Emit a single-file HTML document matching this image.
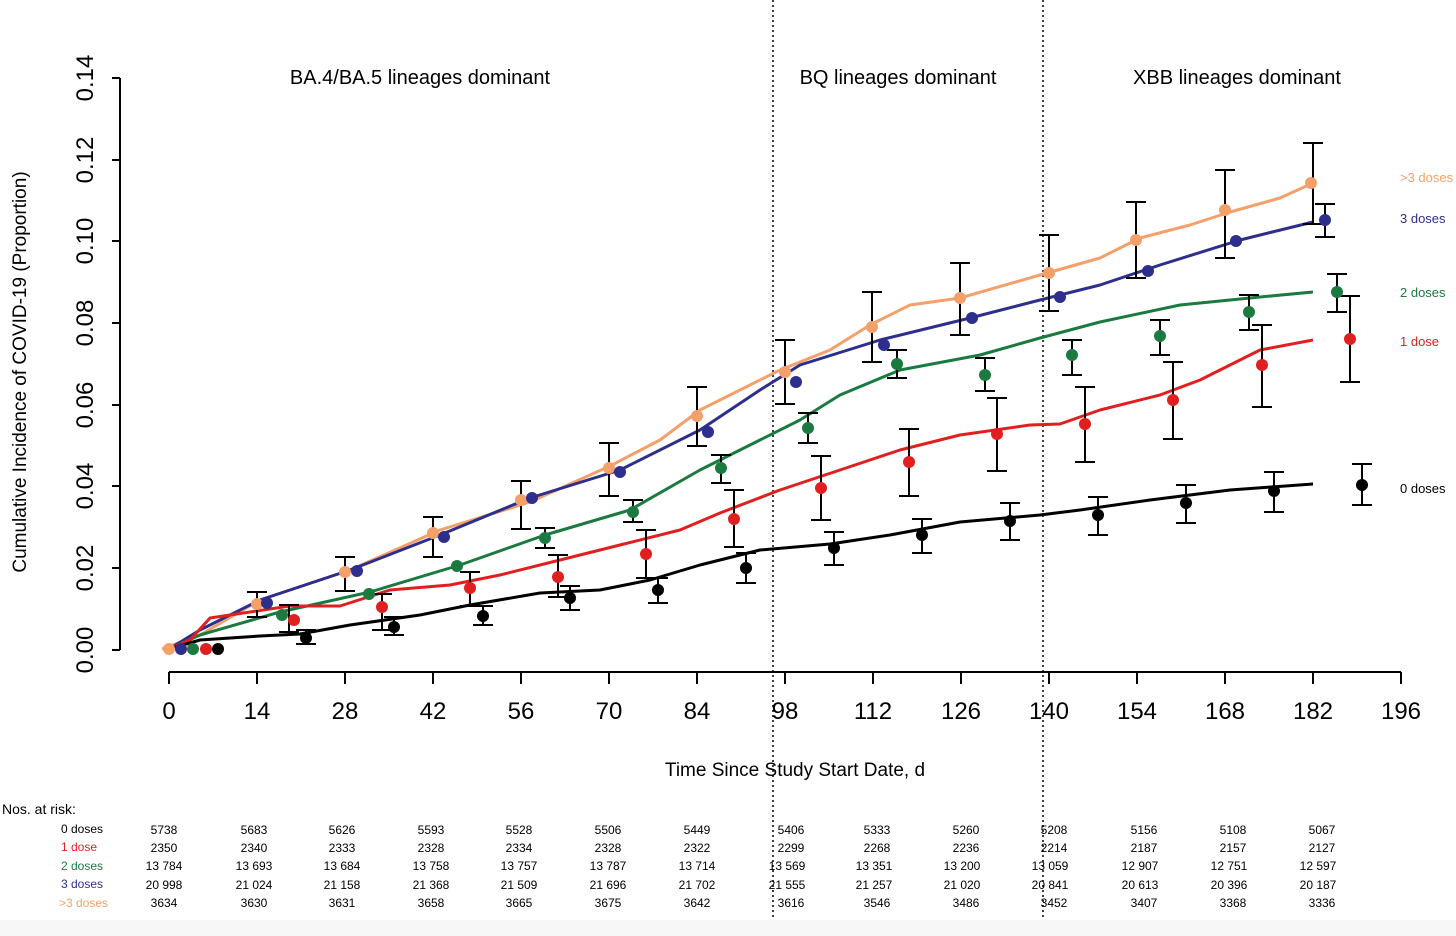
<!DOCTYPE html>
<html><head><meta charset="utf-8"><style>
body{margin:0;background:#fff;}
svg{display:block;font-family:"Liberation Sans",Arial,sans-serif;}
</style></head><body>
<svg width="1456" height="936" viewBox="0 0 1456 936" xmlns="http://www.w3.org/2000/svg">
<rect width="1456" height="936" fill="#fff"/>
<rect x="0" y="920" width="1456" height="16" fill="#f7f7f7"/>
<g stroke="#000" stroke-width="2" fill="none">
<line x1="120" y1="78" x2="120" y2="650"/>
<line x1="112" y1="78" x2="120" y2="78"/><line x1="112" y1="160" x2="120" y2="160"/><line x1="112" y1="241" x2="120" y2="241"/><line x1="112" y1="323" x2="120" y2="323"/><line x1="112" y1="405" x2="120" y2="405"/><line x1="112" y1="486" x2="120" y2="486"/><line x1="112" y1="568" x2="120" y2="568"/><line x1="112" y1="650" x2="120" y2="650"/>
<line x1="169" y1="672" x2="1401" y2="672"/>
<line x1="169" y1="672" x2="169" y2="684"/><line x1="257" y1="672" x2="257" y2="684"/><line x1="345" y1="672" x2="345" y2="684"/><line x1="433" y1="672" x2="433" y2="684"/><line x1="521" y1="672" x2="521" y2="684"/><line x1="609" y1="672" x2="609" y2="684"/><line x1="697" y1="672" x2="697" y2="684"/><line x1="785" y1="672" x2="785" y2="684"/><line x1="873" y1="672" x2="873" y2="684"/><line x1="961" y1="672" x2="961" y2="684"/><line x1="1049" y1="672" x2="1049" y2="684"/><line x1="1137" y1="672" x2="1137" y2="684"/><line x1="1225" y1="672" x2="1225" y2="684"/><line x1="1313" y1="672" x2="1313" y2="684"/><line x1="1401" y1="672" x2="1401" y2="684"/>
</g>
<g stroke="#000" stroke-width="1.5" stroke-dasharray="2,3">
<line x1="773" y1="0" x2="773" y2="920"/>
<line x1="1043" y1="0" x2="1043" y2="920"/>
</g>
<g font-size="24" text-anchor="middle" fill="#000">
<text transform="translate(93,650) rotate(-90)">0.00</text>
<text transform="translate(93,568) rotate(-90)">0.02</text>
<text transform="translate(93,486) rotate(-90)">0.04</text>
<text transform="translate(93,405) rotate(-90)">0.06</text>
<text transform="translate(93,323) rotate(-90)">0.08</text>
<text transform="translate(93,241) rotate(-90)">0.10</text>
<text transform="translate(93,160) rotate(-90)">0.12</text>
<text transform="translate(93,78) rotate(-90)">0.14</text>
<text x="169" y="719">0</text><text x="257" y="719">14</text><text x="345" y="719">28</text><text x="433" y="719">42</text><text x="521" y="719">56</text><text x="609" y="719">70</text><text x="697" y="719">84</text><text x="785" y="719">98</text><text x="873" y="719">112</text><text x="961" y="719">126</text><text x="1049" y="719">140</text><text x="1137" y="719">154</text><text x="1225" y="719">168</text><text x="1313" y="719">182</text><text x="1401" y="719">196</text>
</g>
<text transform="translate(26,372) rotate(-90)" font-size="19" text-anchor="middle">Cumulative Incidence of COVID-19 (Proportion)</text>
<text x="795" y="776" font-size="19" text-anchor="middle">Time Since Study Start Date, d</text>
<g font-size="20" text-anchor="middle">
<text x="420" y="84">BA.4/BA.5 lineages dominant</text>
<text x="898" y="84">BQ lineages dominant</text>
<text x="1237" y="84">XBB lineages dominant</text>
</g>
<g font-size="13">
<text x="1400" y="182" fill="#f4a06a">&gt;3 doses</text>
<text x="1400" y="223" fill="#2e2e8c">3 doses</text>
<text x="1400" y="297" fill="#1a7a40">2 doses</text>
<text x="1400" y="346" fill="#e02020">1 dose</text>
<text x="1400" y="493" fill="#000">0 doses</text>
</g>
<g fill="none" stroke-width="3" stroke-linejoin="round">
<polyline stroke="#f4a06a" points="162,649 200,635 260,600 350,570 440,530 530,502 610,466 660,440 700,410 740,390 780,370 830,350 870,325 910,305 960,298 1040,275 1100,258 1140,238 1190,225 1230,212 1280,198 1313,183"/>
<polyline stroke="#2e2e8c" points="169,649 200,630 260,600 350,570 440,535 530,498 620,470 700,430 760,390 800,365 880,340 970,318 1040,300 1100,285 1160,265 1240,240 1313,222"/>
<polyline stroke="#1a7a40" points="169,649 200,635 280,612 370,592 460,565 545,535 630,510 700,470 760,440 800,420 840,395 900,370 980,355 1040,338 1100,322 1180,305 1260,297 1313,292"/>
<polyline stroke="#e02020" points="169,649 190,640 210,618 290,606 340,606 390,590 450,585 500,575 560,560 620,545 680,530 720,513 780,490 840,470 900,450 960,435 1030,425 1060,424 1100,410 1160,395 1200,380 1260,350 1313,340"/>
<polyline stroke="#000" points="169,649 200,640 260,636 300,634 350,625 420,615 470,605 540,593 600,590 650,580 700,565 760,550 830,544 890,535 960,522 1040,515 1080,510 1150,500 1230,490 1313,484"/>
</g>
<g stroke="#000" stroke-width="2" fill="none">
<path d="M257 592V617M247 592h20M247 617h20"/>
<path d="M289 605V632M279 605h20M279 632h20"/>
<path d="M306 630V644M296 630h20M296 644h20"/>
<path d="M345 557V591M335 557h20M335 591h20"/>
<path d="M382 594V630M372 594h20M372 630h20"/>
<path d="M394 617V635M384 617h20M384 635h20"/>
<path d="M433 517V557M423 517h20M423 557h20"/>
<path d="M470 572V606M460 572h20M460 606h20"/>
<path d="M483 606V625M473 606h20M473 625h20"/>
<path d="M521 481V529M511 481h20M511 529h20"/>
<path d="M545 528V548M535 528h20M535 548h20"/>
<path d="M558 555V597M548 555h20M548 597h20"/>
<path d="M570 586V610M560 586h20M560 610h20"/>
<path d="M609 443V496M599 443h20M599 496h20"/>
<path d="M633 500V522M623 500h20M623 522h20"/>
<path d="M646 530V578M636 530h20M636 578h20"/>
<path d="M658 578V603M648 578h20M648 603h20"/>
<path d="M697 387V446M687 387h20M687 446h20"/>
<path d="M721 455V483M711 455h20M711 483h20"/>
<path d="M734 490V547M724 490h20M724 547h20"/>
<path d="M746 553V583M736 553h20M736 583h20"/>
<path d="M785 340V404M775 340h20M775 404h20"/>
<path d="M808 413V443M798 413h20M798 443h20"/>
<path d="M821 456V520M811 456h20M811 520h20"/>
<path d="M834 532V565M824 532h20M824 565h20"/>
<path d="M872 292V362M862 292h20M862 362h20"/>
<path d="M897 350V378M887 350h20M887 378h20"/>
<path d="M909 429V496M899 429h20M899 496h20"/>
<path d="M922 519V553M912 519h20M912 553h20"/>
<path d="M960 263V335M950 263h20M950 335h20"/>
<path d="M985 358V391M975 358h20M975 391h20"/>
<path d="M997 398V471M987 398h20M987 471h20"/>
<path d="M1010 503V540M1000 503h20M1000 540h20"/>
<path d="M1049 235V311M1039 235h20M1039 311h20"/>
<path d="M1072 340V375M1062 340h20M1062 375h20"/>
<path d="M1085 387V462M1075 387h20M1075 462h20"/>
<path d="M1098 497V535M1088 497h20M1088 535h20"/>
<path d="M1136 202V278M1126 202h20M1126 278h20"/>
<path d="M1160 320V355M1150 320h20M1150 355h20"/>
<path d="M1173 362V439M1163 362h20M1163 439h20"/>
<path d="M1186 485V523M1176 485h20M1176 523h20"/>
<path d="M1225 170V258M1215 170h20M1215 258h20"/>
<path d="M1249 295V330M1239 295h20M1239 330h20"/>
<path d="M1262 325V407M1252 325h20M1252 407h20"/>
<path d="M1274 472V512M1264 472h20M1264 512h20"/>
<path d="M1313 143V224M1303 143h20M1303 224h20"/>
<path d="M1325 204V237M1315 204h20M1315 237h20"/>
<path d="M1337 274V312M1327 274h20M1327 312h20"/>
<path d="M1350 296V382M1340 296h20M1340 382h20"/>
<path d="M1362 464V505M1352 464h20M1352 505h20"/>
</g>
<g fill="#f4a06a"><circle cx="169" cy="649" r="6"/><circle cx="257" cy="604" r="6"/><circle cx="345" cy="572" r="6"/><circle cx="433" cy="533" r="6"/><circle cx="521" cy="500" r="6"/><circle cx="609" cy="468" r="6"/><circle cx="697" cy="416" r="6"/><circle cx="785" cy="372" r="6"/><circle cx="872" cy="327" r="6"/><circle cx="960" cy="298" r="6"/><circle cx="1049" cy="273" r="6"/><circle cx="1136" cy="240" r="6"/><circle cx="1225" cy="210" r="6"/><circle cx="1311" cy="183" r="6"/></g>
<g fill="#2e2e8c"><circle cx="181" cy="649" r="6"/><circle cx="267" cy="603" r="6"/><circle cx="357" cy="571" r="6"/><circle cx="444" cy="537" r="6"/><circle cx="532" cy="498" r="6"/><circle cx="620" cy="472" r="6"/><circle cx="708" cy="432" r="6"/><circle cx="796" cy="382" r="6"/><circle cx="884" cy="345" r="6"/><circle cx="972" cy="318" r="6"/><circle cx="1060" cy="297" r="6"/><circle cx="1148" cy="271" r="6"/><circle cx="1236" cy="241" r="6"/><circle cx="1325" cy="220" r="6"/></g>
<g fill="#1a7a40"><circle cx="193" cy="649" r="6"/><circle cx="282" cy="615" r="6"/><circle cx="369" cy="594" r="6"/><circle cx="457" cy="566" r="6"/><circle cx="545" cy="538" r="6"/><circle cx="633" cy="512" r="6"/><circle cx="721" cy="468" r="6"/><circle cx="808" cy="428" r="6"/><circle cx="897" cy="364" r="6"/><circle cx="985" cy="375" r="6"/><circle cx="1072" cy="355" r="6"/><circle cx="1160" cy="336" r="6"/><circle cx="1249" cy="312" r="6"/><circle cx="1337" cy="292" r="6"/></g>
<g fill="#e02020"><circle cx="206" cy="649" r="6"/><circle cx="294" cy="620" r="6"/><circle cx="382" cy="607" r="6"/><circle cx="470" cy="588" r="6"/><circle cx="558" cy="577" r="6"/><circle cx="646" cy="554" r="6"/><circle cx="734" cy="519" r="6"/><circle cx="821" cy="488" r="6"/><circle cx="909" cy="462" r="6"/><circle cx="997" cy="434" r="6"/><circle cx="1085" cy="424" r="6"/><circle cx="1173" cy="400" r="6"/><circle cx="1262" cy="365" r="6"/><circle cx="1350" cy="339" r="6"/></g>
<g fill="#000"><circle cx="218" cy="649" r="6"/><circle cx="306" cy="638" r="6"/><circle cx="394" cy="627" r="6"/><circle cx="483" cy="616" r="6"/><circle cx="570" cy="598" r="6"/><circle cx="658" cy="590" r="6"/><circle cx="746" cy="568" r="6"/><circle cx="834" cy="548" r="6"/><circle cx="922" cy="535" r="6"/><circle cx="1010" cy="521" r="6"/><circle cx="1098" cy="515" r="6"/><circle cx="1186" cy="503" r="6"/><circle cx="1274" cy="491" r="6"/><circle cx="1362" cy="485" r="6"/></g>
<text x="2" y="814" font-size="14">Nos. at risk:</text>
<g font-size="12" text-anchor="end">
<text x="103" y="833" fill="#000">0 doses</text>
<text x="97" y="851" fill="#e02020">1 dose</text>
<text x="103" y="870" fill="#1a7a40">2 doses</text>
<text x="103" y="888" fill="#2e2e8c">3 doses</text>
<text x="108" y="907" fill="#f4a06a">&gt;3 doses</text>
</g>
<g font-size="12" text-anchor="middle">
<g transform="translate(0,834)"><text x="164">5738</text><text x="254">5683</text><text x="342">5626</text><text x="431">5593</text><text x="519">5528</text><text x="608">5506</text><text x="697">5449</text><text x="791">5406</text><text x="877">5333</text><text x="966">5260</text><text x="1054">5208</text><text x="1144">5156</text><text x="1233">5108</text><text x="1322">5067</text></g>
<g transform="translate(0,852)"><text x="164">2350</text><text x="254">2340</text><text x="342">2333</text><text x="431">2328</text><text x="519">2334</text><text x="608">2328</text><text x="697">2322</text><text x="791">2299</text><text x="877">2268</text><text x="966">2236</text><text x="1054">2214</text><text x="1144">2187</text><text x="1233">2157</text><text x="1322">2127</text></g>
<g transform="translate(0,870)"><text x="164">13 784</text><text x="254">13 693</text><text x="342">13 684</text><text x="431">13 758</text><text x="519">13 757</text><text x="608">13 787</text><text x="697">13 714</text><text x="787">13 569</text><text x="874">13 351</text><text x="962">13 200</text><text x="1050">13 059</text><text x="1140">12 907</text><text x="1229">12 751</text><text x="1318">12 597</text></g>
<g transform="translate(0,889)"><text x="164">20 998</text><text x="254">21 024</text><text x="342">21 158</text><text x="431">21 368</text><text x="519">21 509</text><text x="608">21 696</text><text x="697">21 702</text><text x="787">21 555</text><text x="874">21 257</text><text x="962">21 020</text><text x="1050">20 841</text><text x="1140">20 613</text><text x="1229">20 396</text><text x="1318">20 187</text></g>
<g transform="translate(0,907)"><text x="164">3634</text><text x="254">3630</text><text x="342">3631</text><text x="431">3658</text><text x="519">3665</text><text x="608">3675</text><text x="697">3642</text><text x="791">3616</text><text x="877">3546</text><text x="966">3486</text><text x="1054">3452</text><text x="1144">3407</text><text x="1233">3368</text><text x="1322">3336</text></g>
</g>
</svg>
</body></html>
